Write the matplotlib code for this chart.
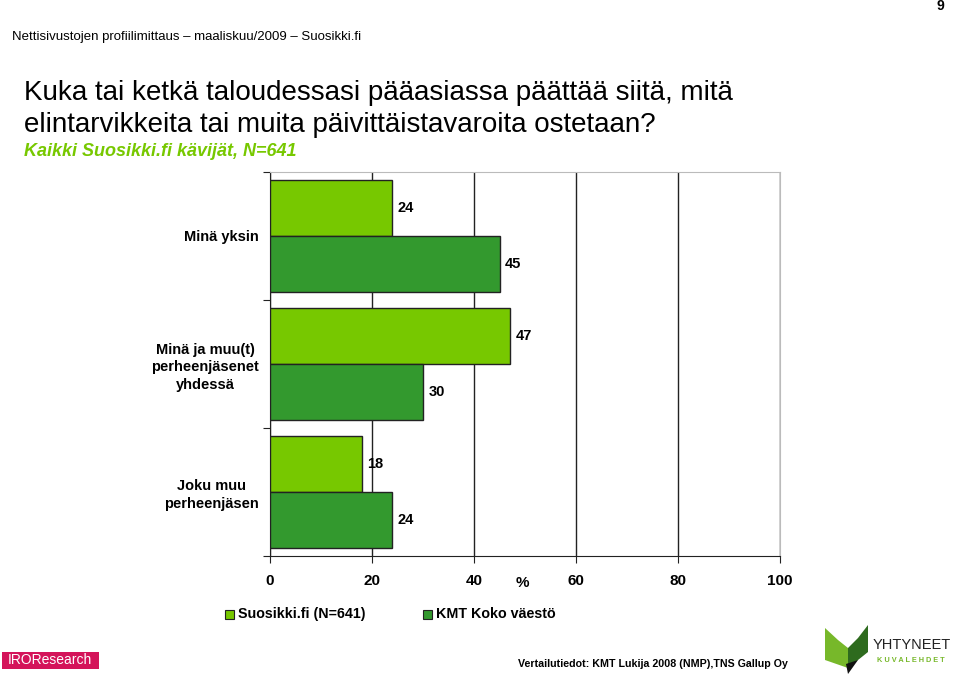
import matplotlib
matplotlib.use("Agg")
import matplotlib.pyplot as plt
from matplotlib.patches import Rectangle, Polygon
import numpy as np

categories = ["Minä yksin", "Minä ja muu(t)\nperheenjäsenet\nyhdessä", "Joku muu\nperheenjäsen"]
suosikki = [24, 47, 18]
kmt = [45, 30, 24]
series_names = ["Suosikki.fi (N=641)", "KMT Koko väestö"]
xticks = [0, 20, 40, 60, 80, 100]

LIGHT = "#77C800"
DARK = "#33992E"
SANS = ["Liberation Sans", "DejaVu Sans"]

fig = plt.figure(figsize=(9.6, 6.84), dpi=100)
W, H = 960, 684
def fx(x): return x / W
def fy(y): return 1 - y / H

ax = fig.add_axes([fx(270), fy(556), fx(780) - fx(270), fy(172) - fy(556)])
y = np.arange(len(categories))
h = 0.44
b1 = ax.barh(y - h / 2, suosikki, height=h, color=LIGHT, edgecolor="#222222", linewidth=1.0, zorder=3)
b2 = ax.barh(y + h / 2, kmt, height=h, color=DARK, edgecolor="#222222", linewidth=1.0, zorder=3)
for bars, vals in ((b1, suosikki), (b2, kmt)):
    for bar, v in zip(bars, vals):
        ax.annotate(str(v), (v, bar.get_y() + bar.get_height() / 2), xytext=(4, 0),
                    textcoords="offset points", va="center", ha="left",
                    fontsize=10.5, fontweight="bold", family=SANS, zorder=4)

ax.set_xlim(0, 100)
ax.set_ylim(2.5, -0.5)
ax.set_xticks(xticks)
ax.set_xticklabels([str(t) for t in xticks], fontsize=11, fontweight="bold", family=SANS)
ax.set_yticks([-0.5, 0.5, 1.5, 2.5])
ax.set_yticklabels([])
ax.set_yticks(y, minor=True)
ax.set_yticklabels(categories, minor=True, fontsize=10.5, fontweight="bold", family=SANS,
                   ha="right", multialignment="center", linespacing=1.35)
ax.tick_params(axis="y", which="minor", length=0, pad=8)
ax.tick_params(axis="y", which="major", length=5, direction="out", color="#222222")
ax.tick_params(axis="x", length=5, direction="out", pad=8, color="#222222")
ax.xaxis.grid(True, color="#222222", linewidth=1.0, zorder=0)
for s in ("top", "right"):
    ax.spines[s].set_color("#BBBBBB")
for s in ("left", "bottom"):
    ax.spines[s].set_color("#222222")
fig.text(fx(522), fy(583), "%", fontsize=11, fontweight="bold", family=SANS, ha="center", va="center")

# legend
for (lx, name, col) in ((225, series_names[0], LIGHT), (423, series_names[1], DARK)):
    fig.patches.append(Rectangle((fx(lx), fy(619)), fx(9), fy(610) - fy(619), facecolor=col,
                                 edgecolor="#222222", linewidth=0.8, transform=fig.transFigure))
    fig.text(fx(lx + 13), fy(614), name, fontsize=10.3, fontweight="bold", family=SANS, va="center")

# header / titles
fig.text(fx(944), fy(6), "9", fontsize=10, fontweight="bold", family=SANS, ha="right", va="center")
fig.text(fx(12), fy(37), "Nettisivustojen profiilimittaus – maaliskuu/2009 – Suosikki.fi",
         fontsize=9.5, family=SANS, va="center")
fig.text(fx(24), fy(93), "Kuka tai ketkä taloudessasi pääasiassa päättää siitä, mitä",
         fontsize=20, family=SANS, va="center")
fig.text(fx(24), fy(125), "elintarvikkeita tai muita päivittäistavaroita ostetaan?",
         fontsize=20, family=SANS, va="center")
fig.text(fx(24), fy(152), "Kaikki Suosikki.fi kävijät, N=641", fontsize=13, family=SANS,
         style="italic", fontweight="bold", color=LIGHT, va="center")

# footer
fig.patches.append(Rectangle((fx(2), fy(669)), fx(97), fy(652) - fy(669), facecolor="#D4145A",
                             edgecolor="none", transform=fig.transFigure))
fig.text(fx(8), fy(660.5), "IROResearch", fontsize=10, color="white", family=SANS, va="center")
fig.text(fx(518), fy(664), "Vertailutiedot: KMT Lukija 2008 (NMP),TNS Gallup Oy",
         fontsize=7.7, fontweight="bold", family=SANS, va="center")
# Yhtyneet Kuvalehdet logo
logo_left = [(825, 628), (838, 640), (848, 648), (848, 668), (825, 660)]
logo_right = [(848, 648), (858, 638), (868, 625), (868, 652), (848, 668)]
tip = [(846, 664), (858, 660), (848, 674)]
for pts, col in ((logo_left, "#77B82A"), (logo_right, "#2E6B1E"), (tip, "#111111")):
    fig.patches.append(Polygon([(fx(a), fy(b)) for a, b in pts], closed=True, facecolor=col,
                               edgecolor="none", transform=fig.transFigure))
fig.text(fx(873), fy(645), "YHTYNEET", fontsize=10.5, family=SANS, color="#222222", va="center")
fig.text(fx(877), fy(661), "K U V A L E H D E T", fontsize=5.3, fontweight="bold", family=SANS,
         color="#77B82A", va="center")

fig.savefig("out.png", dpi=100)
